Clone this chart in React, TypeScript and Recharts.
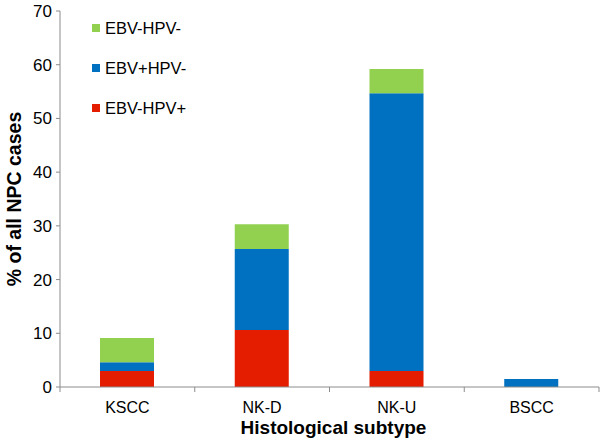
import React from "react";
import { BarChart, Bar, XAxis, YAxis, Legend } from "recharts";

const subtypes = ["KSCC", "NK-D", "NK-U", "BSCC"];
const ebvNegHpvPos = [3.0, 10.6, 3.0, 0];
const ebvPosHpvNeg = [1.6, 15.1, 51.7, 1.5];
const ebvNegHpvNeg = [4.5, 4.6, 4.5, 0];
const yTicks = [0, 10, 20, 30, 40, 50, 60, 70];

const RED = "#e41c00";
const BLUE = "#0070c0";
const GREEN = "#92d050";
const AXIS = "#8c8c8c";
const FONT = "'Liberation Sans', Arial, Helvetica, sans-serif";

const WIDTH = 600;
const HEIGHT = 441;
const LEFT = 60;
const RIGHT = 1;
const HALF_BAND = (WIDTH - LEFT - RIGHT) / subtypes.length / 2;

const data = subtypes.map((name, i) => ({
  name,
  hpvPos: ebvNegHpvPos[i],
  ebvPos: ebvPosHpvNeg[i],
  neg: ebvNegHpvNeg[i],
}));

const legendItems = [
  { label: "EBV-HPV-", color: GREEN },
  { label: "EBV+HPV-", color: BLUE },
  { label: "EBV-HPV+", color: RED },
];

const CategoryTick = (props: any) => {
  const { x, y, payload, index } = props;
  const axisY = y - 8;
  const last = index === subtypes.length - 1;
  return (
    <g>
      <line x1={x - HALF_BAND} x2={x - HALF_BAND} y1={axisY} y2={axisY + 5} stroke={AXIS} />
      {last && (
        <line x1={x + HALF_BAND} x2={x + HALF_BAND} y1={axisY} y2={axisY + 5} stroke={AXIS} />
      )}
      <text
        x={x}
        y={axisY + 25.5}
        textAnchor="middle"
        fill="#000"
        fontSize={16}
        fontFamily={FONT}
      >
        {payload.value}
      </text>
    </g>
  );
};

const renderLegend = () => (
  <div style={{ fontFamily: FONT, fontSize: 16.5, color: "#000" }}>
    {legendItems.map((item) => (
      <div
        key={item.label}
        style={{ display: "flex", alignItems: "center", height: 20, marginBottom: 20 }}
      >
        <span
          style={{ width: 8, height: 8, background: item.color, marginRight: 5, display: "inline-block" }}
        />
        <span>{item.label}</span>
      </div>
    ))}
  </div>
);

export default function App() {
  return (
    <div style={{ position: "absolute", left: 0, top: 0, background: "#fff" }}>
      <BarChart
        width={WIDTH}
        height={HEIGHT}
        data={data}
        margin={{ top: 11, right: RIGHT, left: 0, bottom: 0 }}
        barCategoryGap={0}
      >
        <XAxis
          dataKey="name"
          height={54}
          stroke={AXIS}
          tickLine={false}
          tickSize={6}
          tickMargin={2}
          tick={<CategoryTick />}
          label={{
            content: ({ viewBox }: any) => (
              <text
                x={viewBox.x + viewBox.width / 2 + 4}
                y={viewBox.y + 47}
                textAnchor="middle"
                fontWeight="bold"
                fontSize={19}
                fontFamily={FONT}
                fill="#000"
              >
                Histological subtype
              </text>
            ),
          }}
        />
        <YAxis
          width={LEFT}
          domain={[0, 70]}
          ticks={yTicks}
          interval={0}
          stroke={AXIS}
          tickSize={4}
          tickMargin={4}
          tick={{ fill: "#000", fontSize: 17, fontFamily: FONT }}
          label={{
            content: ({ viewBox }: any) => {
              const cy = viewBox.y + viewBox.height / 2;
              return (
                <text
                  x={14}
                  y={cy}
                  transform={`rotate(-90 14 ${cy})`}
                  textAnchor="middle"
                  dominantBaseline="central"
                  fontWeight="bold"
                  fontSize={19.5}
                  fontFamily={FONT}
                  fill="#000"
                >
                  % of all NPC cases
                </text>
              );
            },
          }}
        />
        <Legend
          layout="vertical"
          align="center"
          verticalAlign="middle"
          content={renderLegend}
          wrapperStyle={{ left: 92, top: 18, width: 160 }}
        />
        <Bar dataKey="hpvPos" stackId="a" fill={RED} barSize={54} isAnimationActive={false} />
        <Bar dataKey="ebvPos" stackId="a" fill={BLUE} barSize={54} isAnimationActive={false} />
        <Bar dataKey="neg" stackId="a" fill={GREEN} barSize={54} isAnimationActive={false} />
      </BarChart>
    </div>
  );
}
